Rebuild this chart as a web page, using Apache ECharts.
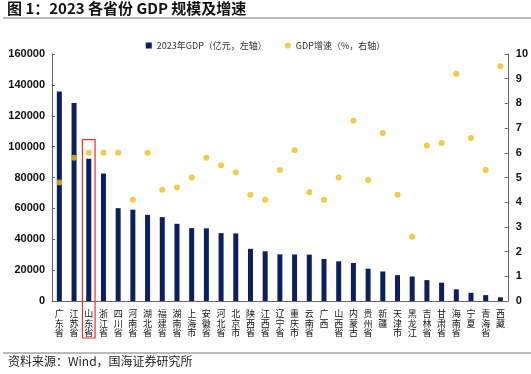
<!DOCTYPE html>
<html>
<head>
<meta charset="utf-8">
<script src="https://cdn.jsdelivr.net/npm/echarts@6/dist/echarts.min.js"></script>
<style>
  html, body { margin: 0; padding: 0; background: #fff; }
  #main { width: 531px; height: 374px; }
</style>
</head>
<body>
<div id="main"></div>
<script>
  var provinces = ['广东省', '江苏省', '山东省', '浙江省', '四川省', '河南省', '湖北省', '福建省',
    '湖南省', '上海市', '安徽省', '河北省', '北京市', '陕西省', '江西省', '辽宁省', '重庆市',
    '云南省', '广西', '山西省', '内蒙古', '贵州省', '新疆', '天津市', '黑龙江', '吉林省',
    '甘肃省', '海南省', '宁夏', '青海省', '西藏'];
  var gdp2023 = [135673, 128222, 92069, 82553, 60133, 59132, 55804, 54355, 50013, 47219,
    47051, 43944, 43761, 33786, 32200, 30209, 30146, 30021, 27202, 25698, 24627, 20913,
    19126, 16737, 15883, 13531, 11864, 7551, 5315, 3799, 2393];
  var gdpGrowth = [4.8, 5.8, 6.0, 6.0, 6.0, 4.1, 6.0, 4.5, 4.6, 5.0, 5.8, 5.5, 5.2, 4.3, 4.1,
    5.3, 6.1, 4.4, 4.1, 5.0, 7.3, 4.9, 6.8, 4.3, 2.6, 6.3, 6.4, 9.2, 6.6, 5.3, 9.5];
  var leftMax = 160000, leftStep = 20000;
  var rightMax = 10, rightStep = 1;
  var highlighted = '山东省';
  var boxTopValue = 104500;

  var chart = echarts.init(document.getElementById('main'), null, { renderer: 'canvas' });

  var numFont = { fontFamily: 'Liberation Sans', fontWeight: 'bold', fontSize: 11, color: '#111' };

  var option = {
    animation: false,
    title: {
      text: '图 1：2023 各省份 GDP 规模及增速',
      left: 7, top: 1, padding: 0,
      textStyle: { fontFamily: 'Noto Sans CJK SC', fontWeight: 'bold', fontSize: 15, color: '#111' }
    },
    legend: {
      top: 41, left: 'center', padding: 0,
      itemWidth: 6, itemHeight: 6, itemGap: 18,
      textStyle: { fontFamily: 'Noto Sans CJK SC', fontSize: 9, color: '#333' },
      data: [
        { name: '2023年GDP（亿元，左轴）', icon: 'rect' },
        { name: 'GDP增速（%，右轴）', icon: 'circle' }
      ]
    },
    grid: { left: 52, right: 22, top: 54, bottom: 73 },
    xAxis: {
      type: 'category',
      data: provinces,
      axisLine: { lineStyle: { color: '#666', width: 1 } },
      axisTick: { inside: true, length: 3, lineStyle: { color: '#666' } },
      axisLabel: {
        interval: 0, margin: 8, fontSize: 9, lineHeight: 9.5,
        fontFamily: 'Noto Sans CJK SC', color: '#111',
        formatter: function (v) { return v.split('').join('\n'); }
      }
    },
    yAxis: [
      {
        type: 'value', min: 0, max: leftMax, interval: leftStep,
        splitLine: { show: false },
        axisLine: { show: true, lineStyle: { color: '#666' } },
        axisTick: { show: true, inside: true, length: 3, lineStyle: { color: '#666' } },
        axisLabel: Object.assign({ margin: 7, formatter: function (v) { return String(v); } }, numFont)
      },
      {
        type: 'value', min: 0, max: rightMax, interval: rightStep,
        splitLine: { show: false },
        axisLine: { show: true, lineStyle: { color: '#666' } },
        axisTick: { show: true, inside: true, length: 3, lineStyle: { color: '#666' } },
        axisLabel: Object.assign({ margin: 8 }, numFont)
      }
    ],
    series: [
      {
        name: '2023年GDP（亿元，左轴）',
        type: 'bar',
        yAxisIndex: 0,
        barWidth: 5,
        itemStyle: { color: '#0C1F5E' },
        data: gdp2023
      },
      {
        name: 'GDP增速（%，右轴）',
        type: 'scatter',
        yAxisIndex: 1,
        symbolSize: 6,
        itemStyle: { color: '#F2BD1D' },
        data: gdpGrowth
      }
    ]
  };

  chart.setOption(option);

  // red box round the highlighted province, title rule, footer rule and source text
  var topLeft = chart.convertToPixel({ gridIndex: 0 }, [highlighted, boxTopValue]);
  var base = chart.convertToPixel({ gridIndex: 0 }, [highlighted, 0]);
  var step = chart.convertToPixel({ gridIndex: 0 }, [provinces[1], 0])[0] -
             chart.convertToPixel({ gridIndex: 0 }, [provinces[0], 0])[0];
  var boxW = step * 0.86;

  chart.setOption({
    graphic: [
      {
        type: 'rect',
        shape: { x: topLeft[0] - boxW / 2, y: topLeft[1], width: boxW, height: base[1] + 37 - topLeft[1] },
        style: { fill: 'none', stroke: '#E8332E', lineWidth: 1.2 },
        z: 100
      },
      {
        type: 'line',
        shape: { x1: 3, y1: 18, x2: 531, y2: 18 },
        style: { stroke: '#777', lineWidth: 1 }
      },
      {
        type: 'line',
        shape: { x1: 3, y1: 353, x2: 531, y2: 353 },
        style: { stroke: '#777', lineWidth: 1 }
      },
      {
        type: 'text',
        left: 8, top: 355,
        style: { text: '资料来源：Wind，国海证券研究所', font: '12px "Noto Sans CJK SC"', fill: '#222' }
      }
    ]
  });

  window.addEventListener('resize', chart.resize);
</script>
</body>
</html>
